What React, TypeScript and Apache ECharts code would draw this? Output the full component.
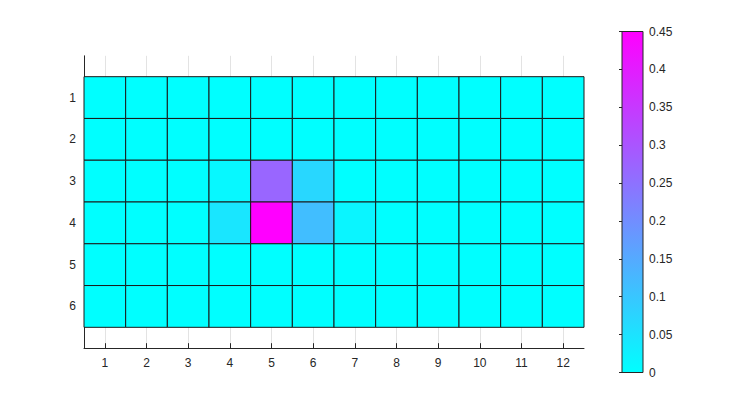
import React, { useEffect, useRef } from 'react';
import * as echarts from 'echarts';

const xCategories = [1, 2, 3, 4, 5, 6, 7, 8, 9, 10, 11, 12];
const yCategories = [1, 2, 3, 4, 5, 6];
const row1 = [0, 0, 0, 0, 0, 0, 0, 0, 0, 0, 0, 0];
const row2 = [0, 0, 0, 0, 0, 0, 0, 0, 0, 0, 0, 0];
const row3 = [0, 0, 0, 0.013, 0.27, 0.07, 0, 0, 0, 0, 0, 0];
const row4 = [0, 0, 0, 0.045, 0.45, 0.115, 0.018, 0, 0, 0, 0, 0];
const row5 = [0, 0, 0, 0, 0, 0, 0, 0, 0, 0, 0, 0];
const row6 = [0, 0, 0, 0, 0, 0, 0, 0, 0, 0, 0, 0];
const rows = [row1, row2, row3, row4, row5, row6];
const colorMin = 0;
const colorMax = 0.45;
const colorInterval = 0.05;

const FONT = "'Liberation Sans', Arial, Helvetica, sans-serif";
const TEXT = '#262626';

export default function App() {
  const ref = useRef<HTMLDivElement>(null);
  useEffect(() => {
    if (!ref.current) return;
    const chart = echarts.init(ref.current, undefined, { renderer: 'svg' });
    const data: number[][] = [];
    rows.forEach((row, r) => {
      row.forEach((v, c) => {
        data.push([xCategories[c], yCategories[r], v]);
      });
    });
    chart.setOption({
      animation: false,
      backgroundColor: '#ffffff',
      textStyle: { fontFamily: FONT },
      grid: [
        { left: 84, top: 55.8, width: 500, height: 292.4 },
        { left: 622, top: 31.5, width: 21, height: 341 },
      ],
      visualMap: {
        show: false,
        type: 'continuous',
        seriesIndex: 0,
        dimension: 2,
        min: colorMin,
        max: colorMax,
        inRange: { color: ['#00ffff', '#ff00ff'] },
      },
      xAxis: [
        {
          type: 'value',
          gridIndex: 0,
          min: 0.5,
          max: 12.5,
          position: 'bottom',
          axisLine: { show: true, onZero: false, lineStyle: { color: TEXT, width: 1 } },
          axisTick: { show: true, inside: true, length: 5, customValues: xCategories, lineStyle: { color: TEXT } },
          axisLabel: { customValues: xCategories, color: TEXT, fontSize: 12, fontFamily: FONT, margin: 9 },
          splitLine: { show: true, lineStyle: { color: '#e3e3e3', width: 1 } },
        },
        {
          type: 'value',
          gridIndex: 1,
          min: 0,
          max: 1,
          show: false,
        },
      ],
      yAxis: [
        {
          type: 'value',
          gridIndex: 0,
          min: 0,
          max: 7,
          inverse: true,
          axisLine: { show: true, onZero: false, lineStyle: { color: TEXT, width: 1 } },
          axisTick: { show: false },
          axisLabel: { customValues: yCategories, color: TEXT, fontSize: 12, fontFamily: FONT, margin: 8 },
          splitLine: { show: false },
        },
        {
          type: 'value',
          gridIndex: 1,
          position: 'right',
          min: colorMin,
          max: colorMax,
          interval: colorInterval,
          z: 5,
          axisLine: { show: false },
          axisTick: { show: true, inside: true, length: 3, lineStyle: { color: TEXT } },
          axisLabel: { color: TEXT, fontSize: 12, fontFamily: FONT, margin: 6 },
          splitLine: { show: false },
        },
      ],
      series: [
        {
          type: 'custom',
          xAxisIndex: 0,
          yAxisIndex: 0,
          data,
          renderItem: (params: any, api: any) => {
            const x = api.value(0);
            const y = api.value(1);
            const p1 = api.coord([x - 0.5, y - 0.5]);
            const p2 = api.coord([x + 0.5, y + 0.5]);
            return {
              type: 'rect',
              shape: {
                x: Math.min(p1[0], p2[0]),
                y: Math.min(p1[1], p2[1]),
                width: Math.abs(p2[0] - p1[0]),
                height: Math.abs(p2[1] - p1[1]),
              },
              style: { fill: api.visual('color'), stroke: '#1a1a1a', lineWidth: 1 },
            };
          },
        },
        {
          type: 'custom',
          xAxisIndex: 1,
          yAxisIndex: 1,
          data: [[0, colorMin, colorMax]],
          renderItem: (params: any, api: any) => {
            const p1 = api.coord([0, api.value(2)]);
            const p2 = api.coord([1, api.value(1)]);
            return {
              type: 'rect',
              shape: { x: p1[0], y: p1[1], width: p2[0] - p1[0], height: p2[1] - p1[1] },
              style: {
                fill: new echarts.graphic.LinearGradient(0, 0, 0, 1, [
                  { offset: 0, color: '#ff00ff' },
                  { offset: 1, color: '#00ffff' },
                ]),
                stroke: TEXT,
                lineWidth: 1,
              },
            };
          },
        },
      ],
    });
    return () => chart.dispose();
  }, []);
  return <div ref={ref} style={{ position: 'fixed', left: 0, top: 0, width: 732, height: 420 }} />;
}
